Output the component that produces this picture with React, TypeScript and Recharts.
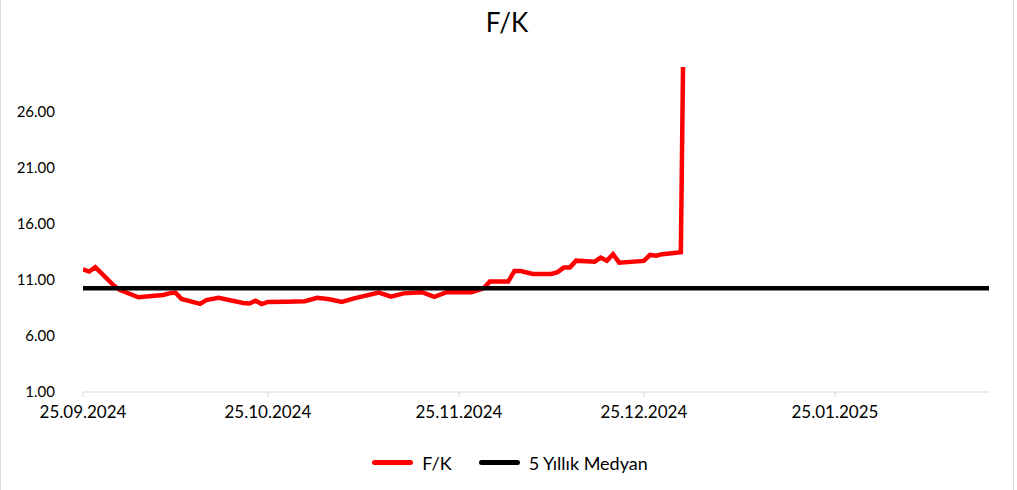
import { Legend, Line, LineChart, XAxis, YAxis } from "recharts";

const FONT = "Lato, 'Open Sans', sans-serif";

// F/K readings (clipped spike at the end of the year)
const FK_DATES = [
  "25.09.2024", "26.09.2024", "27.09.2024", "30.09.2024", "01.10.2024", "04.10.2024",
  "08.10.2024", "09.10.2024", "10.10.2024", "11.10.2024", "14.10.2024", "15.10.2024",
  "17.10.2024", "21.10.2024", "22.10.2024", "23.10.2024", "24.10.2024", "25.10.2024",
  "28.10.2024", "31.10.2024", "02.11.2024", "04.11.2024", "06.11.2024", "08.11.2024",
  "12.11.2024", "14.11.2024", "16.11.2024", "19.11.2024", "21.11.2024", "23.11.2024",
  "27.11.2024", "29.11.2024", "30.11.2024", "03.12.2024", "04.12.2024", "05.12.2024",
  "07.12.2024", "10.12.2024", "11.12.2024", "12.12.2024", "13.12.2024", "14.12.2024",
  "17.12.2024", "18.12.2024", "19.12.2024", "20.12.2024", "21.12.2024", "25.12.2024",
  "26.12.2024", "27.12.2024", "28.12.2024", "31.12.2024", "01.01.2025",
];
const FK_VALUES = [
  11.95, 11.75, 12.13, 10.5, 10.1, 9.45,
  9.66, 9.8, 9.87, 9.3, 8.86, 9.2,
  9.4, 8.95, 8.9, 9.15, 8.85, 9.04,
  9.06, 9.1, 9.4, 9.27, 9.03, 9.36,
  9.87, 9.5, 9.8, 9.9, 9.5, 9.9,
  9.9, 10.26, 10.85, 10.85, 11.8, 11.8,
  11.53, 11.53, 11.7, 12.1, 12.1, 12.72,
  12.63, 12.99, 12.72, 13.29, 12.54, 12.7,
  13.23, 13.17, 13.3, 13.47, 60,
];

const MEDIAN_DATES = ["25.09.2024", "19.02.2025"];
const MEDIAN_VALUE = 10.26;

const X_TICKS = ["25.09.2024", "25.10.2024", "25.11.2024", "25.12.2024", "25.01.2025"];
const Y_TICKS = [1, 6, 11, 16, 21, 26];

const START = "25.09.2024";
const END = "19.02.2025";

function toDay(s: string) {
  const [d, m, y] = s.split(".").map(Number);
  const [d0, m0, y0] = START.split(".").map(Number);
  return Math.round((Date.UTC(y, m - 1, d) - Date.UTC(y0, m0 - 1, d0)) / 86400000);
}

const fkData = FK_DATES.map((date, i) => ({ d: toDay(date), fk: FK_VALUES[i] }));
const medianData = MEDIAN_DATES.map((date) => ({ d: toDay(date), med: MEDIAN_VALUE }));
const tickDays = X_TICKS.map(toDay);
const tickLabel: Record<number, string> = {};
X_TICKS.forEach((t) => { tickLabel[toDay(t)] = t; });

function LegendBox() {
  const item = (color: string, label: string, gap: number) => (
    <span style={{ display: "inline-flex", alignItems: "center", marginRight: gap }}>
      <span style={{ display: "inline-block", width: 41, height: 5, background: color, borderRadius: 3, marginRight: 9 }} />
      <span>{label}</span>
    </span>
  );
  return (
    <div style={{ height: 58, display: "flex", justifyContent: "center", alignItems: "center", paddingTop: 3, paddingLeft: 30, boxSizing: "border-box", fontFamily: FONT, fontSize: 18, color: "#000" }}>
      {item("#ff0000", "F/K", 27)}
      {item("#000000", "5 Yıllık Medyan", 0)}
    </div>
  );
}

export default function App() {
  return (
    <div style={{ position: "relative", width: 1012, height: 490, borderLeft: "1px solid #d9d9d9", borderRight: "1px solid #d9d9d9", background: "#fff" }}>
      <style>{`body{margin:0}`}</style>
      <div style={{ position: "absolute", top: 6, left: 0, width: "100%", textAlign: "center", fontFamily: FONT, fontSize: 26, color: "#000" }}>
        F/K
      </div>
      <LineChart width={1012} height={490} margin={{ top: 67, right: 24, left: 0, bottom: 0 }}>
        <XAxis
          type="number"
          dataKey="d"
          domain={[0, toDay(END)]}
          ticks={tickDays}
          tickFormatter={(v: number) => tickLabel[v] ?? ""}
          height={40}
          stroke="#d9d9d9"
          tickSize={5}
          tickMargin={9}
          tick={{ fill: "#000", fontFamily: FONT, fontSize: 17 }}
          allowDataOverflow
        />
        <YAxis
          type="number"
          domain={[1, 30]}
          ticks={Y_TICKS}
          tickFormatter={(v: number) => v.toFixed(2)}
          width={82}
          axisLine={false}
          tickLine={false}
          tickSize={0}
          tickMargin={28}
          tick={{ fill: "#000", fontFamily: FONT, fontSize: 15 }}
          allowDataOverflow
        />
        <Legend verticalAlign="bottom" content={() => <LegendBox />} />
        <Line data={fkData} dataKey="fk" type="linear" stroke="#ff0000" strokeWidth={4.5} dot={false} isAnimationActive={false} />
        <Line data={medianData} dataKey="med" type="linear" stroke="#000000" strokeWidth={4.5} dot={false} isAnimationActive={false} />
      </LineChart>
    </div>
  );
}
